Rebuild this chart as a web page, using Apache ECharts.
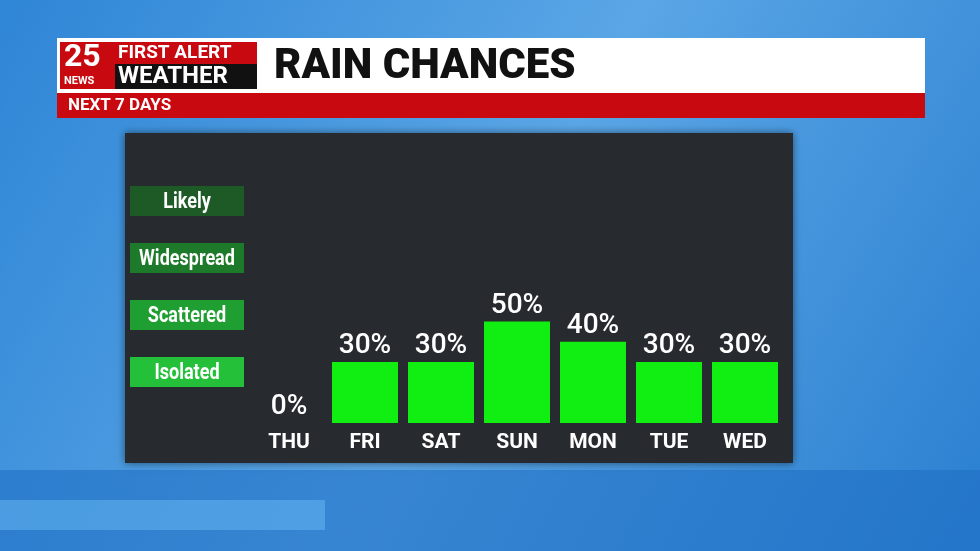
<!DOCTYPE html>
<html><head><meta charset="utf-8">
<script src="https://cdn.jsdelivr.net/npm/echarts@6/dist/echarts.min.js"></script>
<style>html,body{margin:0;padding:0}#c{width:980px;height:551px}</style>
</head><body><div id="c"></div>
<script>
const days = ['THU','FRI','SAT','SUN','MON','TUE','WED'];
const chances = [0,30,30,50,40,30,30];
const levels = ['Likely','Widespread','Scattered','Isolated'];
const levelColors = ['#1d5a26','#1e7a2b','#1f9e31','#25c03a'];

const chart = echarts.init(document.getElementById('c'));
const g = [
  {type:'rect',z:-10,shape:{x:0,y:0,width:980,height:551},style:{fill:new echarts.graphic.LinearGradient(0,0,1,1,[{offset:0,color:'#2f86d6'},{offset:0.5,color:'#5aa6e6'},{offset:1,color:'#2a7fd0'}])}},
  {type:'rect',z:-9,shape:{x:0,y:470,width:980,height:81},style:{fill:'#1f6fc4',opacity:0.6}},
  {type:'rect',z:-8,shape:{x:0,y:500,width:325,height:30},style:{fill:'#5fb0ee',opacity:0.6}},
  {type:'rect',z:-5,shape:{x:125,y:133,width:668,height:330},style:{fill:'#272b30',shadowBlur:8,shadowColor:'rgba(0,0,0,0.5)'}},
  {type:'rect',shape:{x:57,y:38,width:868,height:56},style:{fill:'#ffffff'}},
  {type:'rect',shape:{x:57,y:93,width:868,height:25},style:{fill:'#c8090f'}},
  {type:'text',style:{x:68,y:106,text:'NEXT 7 DAYS',fill:'#fff',font:'bold 17px Roboto',verticalAlign:'middle'}},
  {type:'text',style:{x:274,y:67,text:'RAIN CHANCES',fill:'#111',font:'900 42px Roboto',verticalAlign:'middle'}},
  {type:'rect',shape:{x:60,y:42,width:197,height:47},style:{fill:'#c8090f'}},
  {type:'rect',shape:{x:115,y:64,width:142,height:25},style:{fill:'#111'}},
  {type:'text',style:{x:64,y:58,text:'25',fill:'#fff',font:'bold 32px Roboto',verticalAlign:'middle'}},
  {type:'text',style:{x:64,y:81,text:'NEWS',fill:'#fff',font:'bold 11px Roboto',verticalAlign:'middle'}},
  {type:'text',style:{x:118,y:53,text:'FIRST ALERT',fill:'#fff',font:'bold 19px Roboto',verticalAlign:'middle'}},
  {type:'text',style:{x:118,y:77,text:'WEATHER',fill:'#fff',font:'bold 24px Roboto',verticalAlign:'middle'}}
];
levels.forEach((l,i)=>{
  const y=186+i*57;
  g.push({type:'rect',shape:{x:130,y:y,width:114,height:30},style:{fill:levelColors[i]}});
  g.push({type:'text',scaleX:0.82,x:187,originX:0,style:{x:0,y:y+16,text:l,fill:'#fff',font:'bold 22px Roboto',align:'center',verticalAlign:'middle'}});
});
chart.setOption({
  animation:false,
  graphic:g,
  grid:{left:251,width:532,top:220,height:203},
  xAxis:{type:'category',data:days,axisLine:{show:false},axisTick:{show:false},
    axisLabel:{color:'#fff',fontSize:21,fontWeight:'bold',fontFamily:'Roboto',margin:9}},
  yAxis:{type:'value',min:0,max:100,show:false,splitLine:{show:false}},
  series:[{type:'bar',data:chances,barWidth:66,itemStyle:{color:'#11ee11'},
    label:{show:true,position:'top',formatter:'{c}%',color:'#fff',fontSize:28,fontFamily:'Roboto',fontWeight:500,distance:2}}]
});
</script></body></html>
